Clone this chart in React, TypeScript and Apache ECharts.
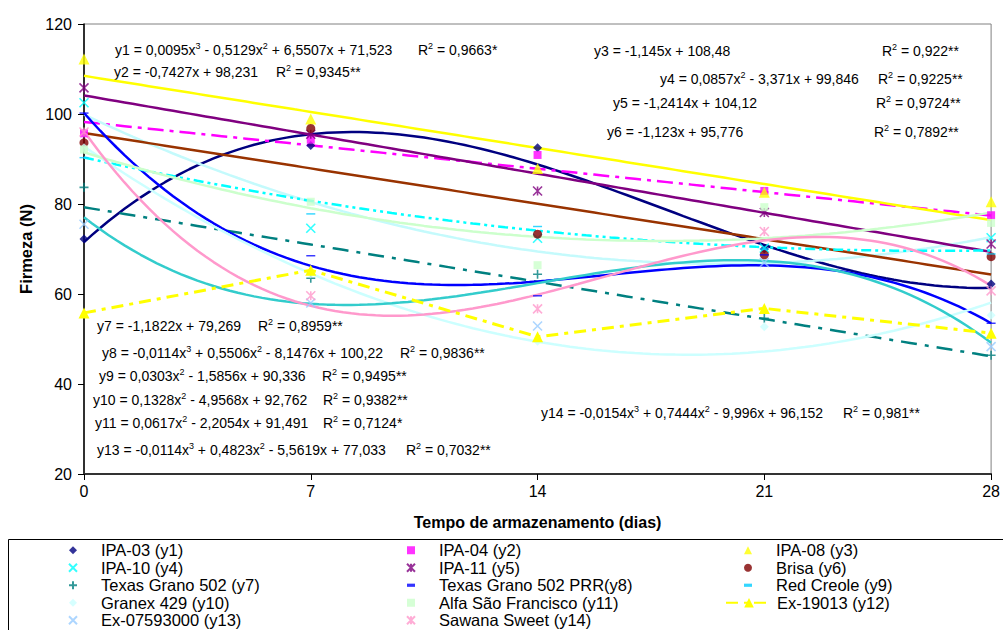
import React, { useEffect, useRef } from 'react';
import * as echarts from 'echarts';

const FONT = '"Liberation Sans", Arial, sans-serif';

// ---- data ----
const days = [0, 7, 14, 21, 28];

const ipa03 = [72.2, 93.0, 92.5, 70.0, 62.2];
const ipa04 = [95.7, 94.3, 90.9, 82.9, 77.5];
const ipa08 = [112.2, 98.9, 87.9, 82.6, 80.5];
const ipa10 = [102.5, 74.6, 72.4, 70.2, 72.5];
const ipa11 = [105.8, 95.5, 82.9, 78.1, 71.1];
const brisa = [93.6, 96.8, 73.3, 68.7, 68.3];
const texasGrano = [83.7, 63.5, 64.4, 54.6, 46.4];
const texasPrr = [100.2, 68.5, 59.6, 68.7, 53.5];
const redCreole = [90.3, 77.8, 75.0, 70.0, 68.9];
const granex = [92.5, 64.5, 49.5, 52.7, 55.3];
const alfa = [92.1, 80.5, 66.4, 79.3, 75.8];
const ex19013 = [55.8, 65.3, 50.5, 56.8, 51.3];
const ex0759 = [75.5, 58.0, 52.9, 67.0, 48.3];
const sawana = [96.0, 59.6, 56.7, 73.9, 60.7];

// trendline coefficients [x^3, x^2, x, const] as printed on the chart
const coefY1 = [0.0095, -0.5129, 6.5507, 71.523];
const coefY2 = [0, 0, -0.7427, 98.231];
const coefY3 = [0, 0, -1.145, 108.48];
const coefY4 = [0, 0.0857, -3.371, 99.846];
const coefY5 = [0, 0, -1.2414, 104.12];
const coefY6 = [0, 0, -1.123, 95.776];
const coefY7 = [0, 0, -1.1822, 79.269];
const coefY8 = [-0.0114, 0.5506, -8.1476, 100.22];
const coefY9 = [0, 0.0303, -1.5856, 90.336];
const coefY10 = [0, 0.1328, -4.9568, 92.762];
const coefY11 = [0, 0.0617, -2.2054, 91.491];
const coefY13 = [-0.0114, 0.4823, -5.5619, 77.033];
const coefY14 = [-0.0154, 0.7444, -9.996, 96.152];

const equations = [
  'y1 = 0,0095x^3 - 0,5129x^2 + 6,5507x + 71,523',
  'y2 = -0,7427x + 98,231',
  'y3 = -1,145x + 108,48',
  'y4 = 0,0857x^2 - 3,371x + 99,846',
  'y5 = -1,2414x + 104,12',
  'y6 = -1,123x + 95,776',
  'y7 = -1,1822x + 79,269',
  'y8 = -0,0114x^3 + 0,5506x^2 - 8,1476x + 100,22',
  'y9 = 0,0303x^2 - 1,5856x + 90,336',
  'y10 = 0,1328x^2 - 4,9568x + 92,762',
  'y11 = 0,0617x^2 - 2,2054x + 91,491',
  'y13 = -0,0114x^3 + 0,4823x^2 - 5,5619x + 77,033',
  'y14 = -0,0154x^3 + 0,7444x^2 - 9,996x + 96,152',
];
const rSquared = [
  'R^2 = 0,9663*',
  'R^2 = 0,9345**',
  'R^2 = 0,922**',
  'R^2 = 0,9225**',
  'R^2 = 0,9724**',
  'R^2 = 0,7892**',
  'R^2 = 0,8959**',
  'R^2 = 0,9836**',
  'R^2 = 0,9495**',
  'R^2 = 0,9382**',
  'R^2 = 0,7124*',
  'R^2 = 0,7032**',
  'R^2 = 0,981**',
];
// label positions [eqX, rX, y]
const labelPos = [
  [115, 418, 50],
  [114, 276, 72],
  [594, 882, 51],
  [660, 878, 79],
  [613, 876, 103],
  [607, 874, 132],
  [97, 258, 326],
  [102, 400, 353],
  [99, 322, 376],
  [93, 323, 400],
  [95, 323, 423],
  [97, 406, 450],
  [541, 843, 413],
];

const col1 = ['IPA-03 (y1)', 'IPA-10 (y4)', 'Texas Grano 502 (y7)', 'Granex 429 (y10)', 'Ex-07593000 (y13)'];
const col2 = ['IPA-04 (y2)', 'IPA-11 (y5)', 'Texas Grano 502 PRR(y8)', 'Alfa São Francisco (y11)', 'Sawana Sweet (y14)'];
const col3 = ['IPA-08 (y3)', 'Brisa (y6)', 'Red Creole (y9)'];
const col3Line = ['Ex-19013 (y12)'];

// ---- symbols ----
const SYM_X = 'path://M0,0L10,10M10,0L0,10';
const SYM_STAR = 'path://M0,0L10,10M10,0L0,10M5,0L5,10';
const SYM_PLUS = 'path://M5,0L5,10M0,5L10,5';
const SYM_DASH = 'path://M0,0L10,0L10,4L0,4Z';

function evalPoly(c: number[], x: number) {
  return ((c[0] * x + c[1]) * x + c[2]) * x + c[3];
}
function trendData(c: number[]) {
  const out: number[][] = [];
  for (let i = 0; i <= 112; i++) {
    const x = i * 0.25;
    out.push([x, evalPoly(c, x)]);
  }
  return out;
}
function toRich(s: string) {
  return s
    .split(/\^(\d)/)
    .map((p, i) => (i % 2 ? `{s|${p}}` : p ? `{n|${p}}` : ''))
    .join('');
}
function pts(vals: number[]) {
  return days.map((d, i) => [d, vals[i]]);
}

function scatter(name: string, vals: number[], symbol: string, size: any, color: string, stroke = false) {
  return {
    type: 'scatter',
    name,
    data: pts(vals),
    symbol,
    symbolSize: size,
    symbolKeepAspect: true,
    z: 4,
    clip: false,
    itemStyle: stroke
      ? { color, borderColor: color, borderWidth: 1.6 }
      : { color },
  };
}
function trend(name: string, c: number[], color: string, type: any = 'solid', width = 2.5) {
  return {
    type: 'line',
    name,
    data: trendData(c),
    showSymbol: false,
    symbol: 'none',
    silent: true,
    z: 2,
    lineStyle: { color, width, type },
  };
}

export default function App() {
  const ref = useRef<HTMLDivElement>(null);
  useEffect(() => {
    if (!ref.current) return;
    const chart = echarts.init(ref.current, undefined, { renderer: 'svg' });

    const rich = {
      n: { fontSize: 14, lineHeight: 18, fontFamily: FONT, fill: '#000', verticalAlign: 'middle' },
      s: { fontSize: 9, lineHeight: 7, fontFamily: FONT, fill: '#000', verticalAlign: 'top' },
    };
    const textEls: any[] = [];
    equations.forEach((eq, i) => {
      const [ex, rx, y] = labelPos[i];
      textEls.push({
        type: 'text', x: ex, y, silent: true,
        style: { text: toRich(eq), fontSize: 14, fontFamily: FONT, fill: '#000', verticalAlign: 'middle', align: 'left', rich },
      });
      textEls.push({
        type: 'text', x: rx, y, silent: true,
        style: { text: toRich(rSquared[i]), fontSize: 14, fontFamily: FONT, fill: '#000', verticalAlign: 'middle', align: 'left', rich },
      });
    });

    const ROW = 17.5;
    const LTOP = 541.5;
    const legendBase = {
      orient: 'vertical',
      top: LTOP,
      height: 140,
      itemWidth: 8,
      itemHeight: 8,
      itemGap: 0,
      padding: 0,
      selectedMode: false,
      textStyle: { fontSize: 16.5, lineHeight: ROW, color: '#000', fontFamily: FONT, padding: [0, 0, 0, 19] },
    };

    const option: any = {
      animation: false,
      backgroundColor: '#fff',
      grid: { left: 84, right: 1, top: 24, bottom: 156, show: true, borderColor: '#808080', borderWidth: 1 },
      xAxis: {
        type: 'value', min: 0, max: 28, interval: 7,
        name: 'Tempo de armazenamento (dias)', nameLocation: 'middle', nameGap: 40,
        nameTextStyle: { fontSize: 16, fontWeight: 'bold', color: '#000', fontFamily: FONT },
        axisLine: { show: true, lineStyle: { color: '#333', width: 2 } },
        axisTick: { show: true, length: 6, lineStyle: { color: '#000' } },
        splitLine: { show: false },
        axisLabel: { fontSize: 16, color: '#000', margin: 9, fontFamily: FONT },
      },
      yAxis: {
        type: 'value', min: 20, max: 120, interval: 20,
        name: 'Firmeza (N)', nameLocation: 'middle', nameGap: 35,
        nameTextStyle: { fontSize: 16.5, fontWeight: 'bold', color: '#000', fontFamily: FONT },
        axisLine: { show: true, lineStyle: { color: '#000', width: 1.5 } },
        axisTick: { show: true, length: 6, lineStyle: { color: '#000' } },
        splitLine: { show: false },
        axisLabel: { fontSize: 16, color: '#000', margin: 12, fontFamily: FONT },
      },
      legend: [
        { ...legendBase, left: 68, data: col1 },
        { ...legendBase, left: 406, data: col2 },
        { ...legendBase, left: 744, data: col3 },
        {
          ...legendBase, left: 725, top: LTOP + 3 * ROW, itemWidth: 46, itemHeight: 12,
          textStyle: { fontSize: 16.5, lineHeight: ROW, color: '#000', fontFamily: FONT },
          data: col3Line,
        },
      ],
      graphic: [
        { type: 'rect', silent: true, shape: { x: 8.5, y: 539.5, width: 1000, height: 100 }, style: { fill: 'none', stroke: '#000', lineWidth: 1 } },
        ...textEls,
      ],
      series: [
        trend('t1', coefY1, '#000080'),
        trend('t2', coefY2, '#FF00FF', [16, 6, 4, 6]),
        trend('t3', coefY3, '#FFFF00'),
        trend('t4', coefY4, '#C4FAFC'),
        trend('t5', coefY5, '#800080'),
        trend('t6', coefY6, '#993300'),
        trend('t7', coefY7, '#008080', [16, 8, 4, 8]),
        trend('t8', coefY8, '#0000FF'),
        trend('t9', coefY9, '#00FFFF', [10, 4, 3, 4, 3, 4]),
        trend('t10', coefY10, '#CCFFFF'),
        trend('t11', coefY11, '#CCFFCC'),
        trend('t13', coefY13, '#33CCCC'),
        trend('t14', coefY14, '#FF99CC'),
        scatter('IPA-03 (y1)', ipa03, 'diamond', 9, '#000080'),
        scatter('IPA-04 (y2)', ipa04, 'rect', 8, '#FF00FF'),
        scatter('IPA-08 (y3)', ipa08, 'triangle', 11, '#FFFF00'),
        scatter('IPA-10 (y4)', ipa10, SYM_X, 9, '#00FFFF', true),
        scatter('IPA-11 (y5)', ipa11, SYM_STAR, 9, '#800080', true),
        scatter('Brisa (y6)', brisa, 'circle', 9, '#800000'),
        scatter('Texas Grano 502 (y7)', texasGrano, SYM_PLUS, 9, '#008080', true),
        scatter('Texas Grano 502 PRR(y8)', texasPrr, SYM_DASH, [9, 3.6], '#0000FF'),
        scatter('Red Creole (y9)', redCreole, SYM_DASH, [9, 3.6], '#00CCFF'),
        scatter('Granex 429 (y10)', granex, 'diamond', 9, '#CCFFFF'),
        scatter('Alfa São Francisco (y11)', alfa, 'rect', 8, '#CCFFCC'),
        {
          type: 'line',
          name: 'Ex-19013 (y12)',
          data: pts(ex19013),
          symbol: 'triangle',
          symbolSize: 11,
          showSymbol: true,
          z: 4,
          clip: false,
          itemStyle: { color: '#FFFF00' },
          lineStyle: { color: '#FFFF00', width: 3, type: [12, 6, 4, 6] },
        },
        scatter('Ex-07593000 (y13)', ex0759, SYM_X, 9, '#99CCFF', true),
        scatter('Sawana Sweet (y14)', sawana, SYM_STAR, 9, '#FF99CC', true),
      ],
    };
    chart.setOption(option);
    return () => chart.dispose();
  }, []);
  return (
    <div
      ref={ref}
      style={{ position: 'absolute', left: 0, top: 0, width: 1003, height: 630, background: '#fff' }}
    />
  );
}
